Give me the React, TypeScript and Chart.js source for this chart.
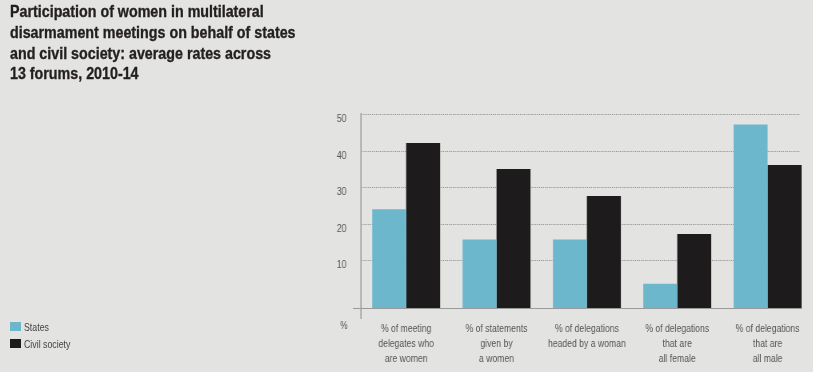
import React, { useEffect, useRef } from "react";
import { Chart, registerables } from "chart.js";

Chart.register(...registerables);

const categories: string[][] = [
  ["% of meeting", "delegates who", "are women"],
  ["% of statements", "given by", "a women"],
  ["% of delegations", "headed by a woman"],
  ["% of delegations", "that are", "all female"],
  ["% of delegations", "that are", "all male"],
];
const statesValues = [24, 15.7, 15.7, 3.6, 47.1];
const civilValues = [42.1, 35, 27.6, 17.2, 36.1];
const yTickValues = [10, 20, 30, 40, 50];
const yMin = -3;
const yMax = 50;

const seriesNames = ["States", "Civil society"];
const seriesColors = ["#6db7cd", "#1d1b1c"];
const BG = "#e3e3e2";
const FONT = "'Liberation Sans', Arial, sans-serif";
// horizontal condensing factor (emulates a narrow typeface)
const S = 0.8;
const W = 813;
const H = 372;
const CW = Math.round(W / S);

const decorPlugin = {
  id: "decor",
  beforeDatasetsDraw(chart: any) {
    const { ctx, chartArea, scales } = chart;
    const y = scales.y;
    ctx.save();
    ctx.strokeStyle = "#8e8e8e";
    ctx.lineWidth = 1;
    ctx.setLineDash([1.2, 1.2]);
    yTickValues.forEach((v) => {
      const py = Math.round(y.getPixelForValue(v)) + 0.5;
      ctx.beginPath();
      ctx.moveTo(chartArea.left + 1.5 / S, py);
      ctx.lineTo(chartArea.right - 13 / S, py);
      ctx.stroke();
    });
    ctx.restore();
  },
  afterDatasetsDraw(chart: any) {
    const { ctx, chartArea } = chart;
    ctx.save();
    ctx.strokeStyle = "#9a9a9a";
    ctx.lineWidth = 1.2 / S;
    const x0 = chartArea.left;
    ctx.beginPath();
    ctx.moveTo(x0, chartArea.top - 1);
    ctx.lineTo(x0, chartArea.bottom + 11);
    ctx.stroke();
    ctx.lineWidth = 1;
    const yb = Math.round(chartArea.bottom) + 0.5;
    ctx.beginPath();
    ctx.moveTo(chartArea.left - 8 / S, yb);
    ctx.lineTo(chartArea.right - 11 / S, yb);
    ctx.stroke();
    ctx.fillStyle = "#555";
    ctx.font = "10.5px " + FONT;
    ctx.textAlign = "center";
    ctx.textBaseline = "middle";
    ctx.fillText("%", chartArea.left - 17 / S, chartArea.bottom + 18);
    ctx.restore();
  },
};

export default function App() {
  const ref = useRef<HTMLCanvasElement>(null);
  useEffect(() => {
    if (!ref.current) return;
    const chart = new Chart(ref.current, {
      type: "bar",
      data: {
        labels: categories,
        datasets: [
          { label: seriesNames[0], data: statesValues, backgroundColor: seriesColors[0], base: yMin } as any,
          { label: seriesNames[1], data: civilValues, backgroundColor: seriesColors[1], base: yMin } as any,
        ],
      },
      options: {
        animation: false,
        responsive: false,
        maintainAspectRatio: false,
        layout: { padding: { left: 301 / S - 60 / S, top: 114, right: 0, bottom: 0 } },
        datasets: { bar: { categoryPercentage: 0.752, barPercentage: 1 } },
        plugins: { legend: { display: false }, tooltip: { enabled: false }, title: { display: false } },
        scales: {
          x: {
            grid: { display: false, drawTicks: false },
            border: { display: false },
            ticks: {
              color: "#555",
              padding: 13,
              maxRotation: 0,
              autoSkip: false,
              font: { family: FONT, size: 10.8, lineHeight: "15.2px" } as any,
            },
            afterFit(scale: any) {
              scale.height = 64;
            },
          },
          y: {
            min: yMin,
            max: yMax,
            grid: { display: false, drawTicks: false },
            border: { display: false },
            ticks: {
              color: "#555",
              padding: 14.5 / S,
              labelOffset: 5,
              font: { family: FONT, size: 11 },
            },
            afterBuildTicks(scale: any) {
              scale.ticks = yTickValues.map((v) => ({ value: v }));
            },
            afterFit(scale: any) {
              scale.width = 120 / S;
            },
          },
        },
      },
      plugins: [decorPlugin],
    });
    return () => chart.destroy();
  }, []);

  return (
    <div style={{ position: "fixed", left: 0, top: 0, width: W, height: H, background: BG, overflow: "hidden" }}>
      <div
        style={{
          position: "absolute",
          left: 0,
          top: 0,
          width: CW,
          height: H,
          transform: `scaleX(${S})`,
          transformOrigin: "0 0",
        }}
      >
        <canvas ref={ref} width={CW} height={H} />
      </div>
      <div
        style={{
          position: "absolute",
          left: 10,
          top: 1,
          fontFamily: FONT,
          fontWeight: "bold",
          fontSize: 16.5,
          lineHeight: "20.8px",
          color: "#231f20",
          whiteSpace: "nowrap",
          WebkitTextStroke: "0.35px #231f20",
          transform: "scaleX(0.865)",
          transformOrigin: "0 0",
        }}
      >
        Participation of women in multilateral
        <br />
        disarmament meetings on behalf of states
        <br />
        and civil society: average rates across
        <br />
        13 forums, 2010-14
      </div>
      <div style={{ position: "absolute", left: 10, top: 318, fontFamily: FONT, fontSize: 11, color: "#444" }}>
        {seriesNames.map((n, i) => (
          <div key={n} style={{ display: "flex", alignItems: "center", height: 17 }}>
            <span style={{ display: "inline-block", width: 11, height: 9, background: seriesColors[i], marginRight: 3 }} />
            <span style={{ display: "inline-block", transform: `scaleX(${S})`, transformOrigin: "0 50%", whiteSpace: "nowrap" }}>
              {n}
            </span>
          </div>
        ))}
      </div>
    </div>
  );
}
